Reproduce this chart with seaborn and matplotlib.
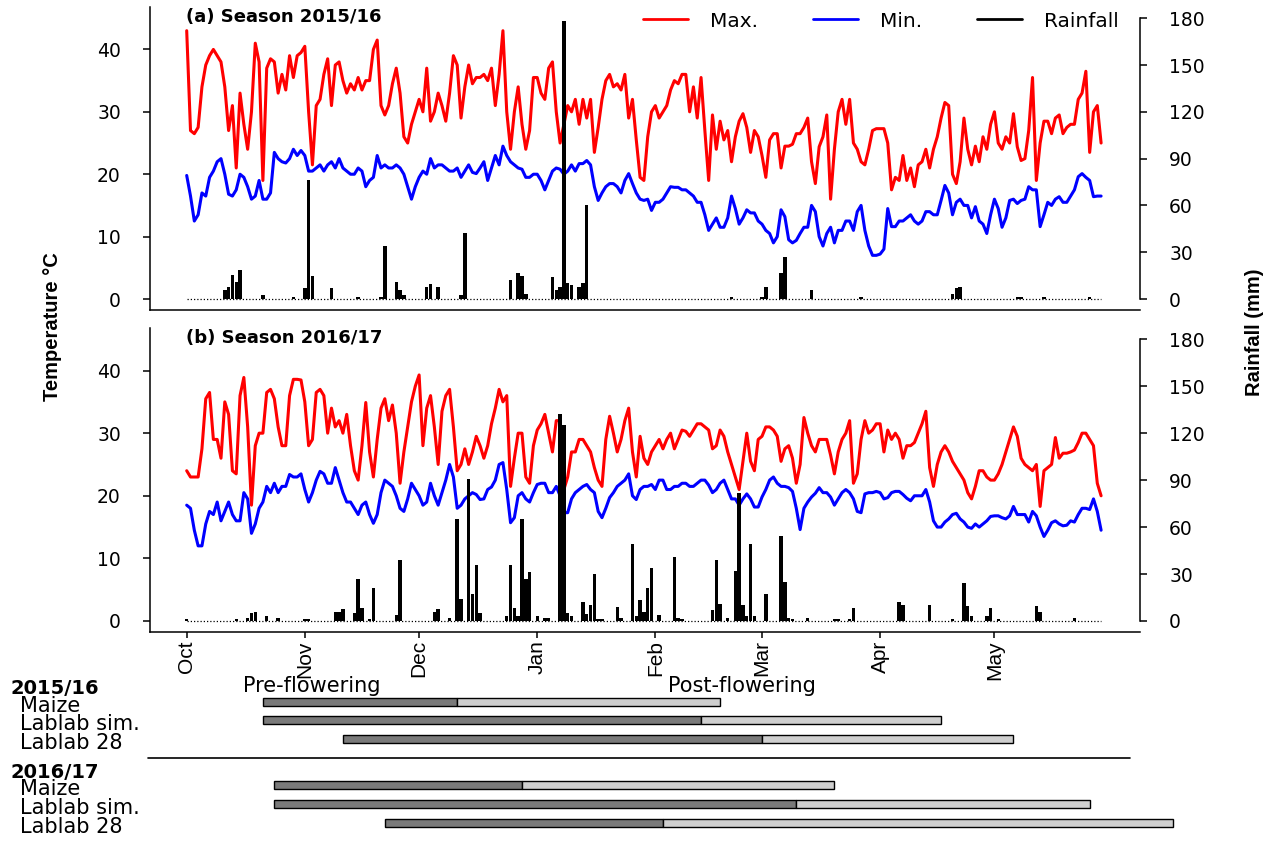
import numpy as np
import pandas as pd
import matplotlib
matplotlib.use("Agg")
import matplotlib.pyplot as plt
import seaborn as sns
from matplotlib import font_manager
from matplotlib.lines import Line2D

# ---------------- data ----------------
month_starts = [0, 31, 61, 92, 123, 151, 182, 212]          # days after 1 Oct
month_labels = ["Oct", "Nov", "Dec", "Jan", "Feb", "Mar", "Apr", "May"]

tmax_a = [43, 27, 26.5, 27.5, 34, 37.5, 39, 40, 39, 38,
          34, 27, 31, 21, 33, 28, 24, 30, 41, 38,
          19, 37, 38.5, 38, 33, 36, 33.5, 39, 35.5, 39,
          39.5, 40.5, 30, 21.5, 31, 32, 36, 38.5, 31, 37.5,
          38, 35, 33, 34.5, 33.5, 35.5, 33.5, 35, 35, 40,
          41.5, 31, 29.5, 31, 34.5, 37, 33, 26, 25, 28,
          30, 32, 30, 37, 28.5, 30, 33, 31, 28.5, 33,
          39, 37.5, 29, 34, 37.5, 34.5, 35.5, 35.5, 36, 35,
          37, 31, 36, 43, 30, 24, 30, 34, 28, 24,
          27, 35.5, 35.5, 33, 32, 37, 38, 30, 25, 28,
          31, 30, 32, 28, 32, 29, 32, 23.5, 27.5, 32,
          35, 36, 34, 34.5, 33.5, 36, 29, 32, 25.5, 19.5,
          19, 26, 30, 31, 29, 30, 31, 33.5, 35, 34.5,
          36, 36, 30, 34, 29, 35.5, 27, 19, 29.5, 24,
          28.5, 25.5, 27, 22, 26, 28.5, 29.7, 27.5, 23.5, 27,
          26, 23, 19.5, 25.5, 26.5, 26.5, 21, 24.5, 24.5, 24.8,
          26.5, 26.5, 27.5, 29, 22, 18.5, 24.4, 26, 29.5, 16,
          24, 30, 32, 28, 32, 25, 24, 22, 21.5, 24,
          27, 27.3, 27.3, 27.3, 25, 17.5, 19.5, 19, 23, 19,
          21, 18, 21.5, 22, 24, 21, 24, 26, 29, 31.5,
          31, 20, 18.5, 22, 29, 24, 21.5, 24.5, 22, 26,
          24, 28, 30, 25, 24, 26, 25, 29.7, 24.4, 22.2,
          22.5, 27, 35.5, 19, 25, 28.5, 28.5, 26.5, 29, 29.5,
          26.5, 27.5, 28, 28, 32, 33, 36.5, 23.5, 30, 31,
          25]

tmin_a = [19.8, 16.5, 12.5, 13.5, 17, 16.5, 19.5, 20.5, 22, 22.5,
          20, 16.8, 16.5, 17.5, 20, 19.5, 18, 16, 16.5, 19,
          16, 16, 17, 23.5, 22.5, 22, 21.8, 22.5, 24, 23,
          23.8, 23, 20.5, 20.5, 21, 21.5, 20.5, 21.5, 22, 21,
          22.5, 21, 20.5, 20, 20, 21, 20.5, 18, 19, 19.5,
          23, 21, 21.5, 21, 21, 21.5, 21, 20, 18, 16,
          18, 19.5, 20.5, 20, 22.5, 21, 21.5, 21.5, 21, 20.5,
          20.5, 21, 19.5, 20.5, 21.5, 20.3, 20.1, 21, 22, 19,
          21, 23, 21.5, 24.5, 23, 22, 21.5, 21, 20.8, 19.5,
          19.5, 20, 20, 19, 17.5, 19, 20.5, 21, 20.8, 20,
          20.5, 21.5, 20.5, 21.7, 21.7, 22.2, 21.5, 18, 15.8, 17,
          18, 18.5, 18.5, 18, 17, 19, 20.1, 18.5, 17, 16,
          15.8, 16, 14.2, 15.5, 15.5, 16, 17, 18, 17.9, 17.9,
          17.5, 17.5, 17, 16.5, 15.5, 15.5, 13.5, 11, 12, 13,
          11.5, 11.5, 13, 16.5, 14.5, 12, 13, 14.3, 13.8, 13.8,
          12.5, 12, 11, 10.5, 9, 10, 14.3, 13.2, 9.5, 9,
          9.4, 10.5, 11.5, 11.5, 15, 14, 10, 8.5, 10.5, 11.5,
          9, 11, 11, 12.5, 12.5, 11, 14, 15, 11, 8.5,
          7, 7, 7.2, 8, 14.5, 11.6, 11.6, 12.5, 12.5, 13,
          13.5, 12.5, 12, 12.5, 14, 14, 13.5, 13.5, 15.8, 18.2,
          17, 13.5, 15.5, 16, 15, 15, 13, 14.8, 12.5, 12,
          10.5, 13.5, 16, 14.5, 11.5, 13, 15.8, 16, 15.3, 15.8,
          16, 18, 17.5, 17.5, 11.6, 13.5, 15.5, 15, 16, 16.4,
          15.5, 15.5, 16.5, 17.5, 19.6, 20.1, 19.5, 19, 16.4, 16.5,
          16.5]

tmax_b = [24, 23, 23, 23, 27.5, 35.5, 36.5, 29, 29, 26,
          35, 33, 24, 23.5, 36, 38.9, 31, 18.5, 28, 30,
          30, 36.5, 37, 35.5, 31, 28, 28, 36, 38.6, 38.6,
          38.5, 35, 28, 29, 36.5, 37, 36, 30, 34, 31,
          32, 30, 33, 28, 24, 22.5, 28, 34.9, 27, 23,
          29, 34, 35.5, 32, 34.5, 30, 22, 27, 31, 35,
          37.5, 39.3, 28, 34, 36, 31, 25, 33.5, 36, 37,
          31, 24, 25, 27.5, 25, 27, 29.5, 28, 26, 28,
          31.5, 34, 37, 35, 36, 21.5, 26, 30, 30, 23,
          22, 28, 30.5, 31.5, 33, 30, 27, 32, 32, 21,
          23, 27, 27, 29, 29, 28, 27, 24.5, 22.5, 21.5,
          29, 32.7, 30, 27, 29, 32, 34, 27, 23, 29.5,
          26, 25, 27, 28, 29, 27.5, 29, 30, 27.5, 29,
          30.5, 30.3, 29.5, 30.5, 31.5, 31.5, 31, 30.5, 27.5, 28,
          30.5, 29.5, 27, 25, 23, 21, 25.5, 30, 25.5, 24,
          29, 29.5, 31, 31, 30.5, 29.5, 25.5, 27.5, 28, 26,
          22, 25, 32.5, 30, 28, 27, 29, 29, 29, 26.5,
          23.5, 27, 29, 30, 32, 22, 23.5, 29, 32, 30,
          30.5, 31.5, 31.5, 27, 30.5, 29, 30, 29, 26, 28,
          28, 28.5, 30, 31.5, 33.5, 24.5, 21.5, 25, 27, 28,
          27, 25.5, 24.5, 23.5, 22.5, 20.5, 19.5, 21.5, 24, 24,
          23, 22.5, 22.5, 23.5, 25, 27, 29, 31, 29.5, 26,
          25, 24.5, 24, 25, 18.3, 24, 24.5, 25, 29.3, 26,
          26.8, 26.8, 27, 27.3, 28.5, 30, 30, 29, 28, 22,
          20]

tmin_b = [18.5, 18, 14.5, 12, 12, 15.5, 17.5, 17, 19, 16,
          17.5, 19, 17, 16, 16, 20.5, 19.5, 14, 15.5, 18,
          19, 21.5, 20.5, 22, 20.5, 21.5, 21.5, 23.4, 23, 23,
          23.5, 21, 19, 20.5, 22.5, 23.9, 23.5, 22, 22, 24.5,
          22.5, 20.5, 19, 19, 18, 17, 18.5, 19, 17, 15.6,
          17, 20.5, 22.5, 22, 21.5, 20, 18, 17.5, 19.5, 22,
          21, 20, 18.5, 19, 22, 20, 18.5, 20.5, 22.5, 25,
          23, 18, 18.5, 19.5, 20, 20.5, 20.2, 19.4, 19.5, 21,
          21.4, 22.5, 25, 25.3, 21, 15.7, 16.5, 20, 20.5, 19.5,
          19, 20.5, 21.8, 22, 22, 20.5, 20.5, 21.5, 20, 17.3,
          17.3, 19.5, 20.5, 21, 21.5, 21.8, 21, 20.5, 17.5, 16.5,
          18, 19.7, 20.5, 21.5, 22, 22.5, 23.5, 20, 19.4, 21,
          21.5, 21.5, 21.8, 21, 22.5, 22.5, 21, 21, 21.5, 21.5,
          22, 22, 21.5, 21.5, 22, 22.5, 22.5, 21.7, 20.5, 21,
          22, 22.5, 21, 19.5, 19.5, 18.5, 19.5, 20.3, 19.5, 18.2,
          18.2, 19.8, 21, 22.5, 23, 22, 21.5, 21.5, 21.3, 20.7,
          18, 14.6, 18, 19, 19.8, 20.4, 21.3, 20.5, 20.5, 19.8,
          18.5, 19.5, 20.5, 21, 20.5, 19.5, 17.5, 17.3, 20.3, 20.5,
          20.5, 20.7, 20.5, 19.5, 19.7, 20.5, 20.7, 20.7, 20.2, 19.6,
          19.2, 20, 20, 20, 21, 19, 16, 15, 15, 15.8,
          16.3, 17, 17.2, 16.3, 15.8, 15, 14.8, 15.5, 15, 15.5,
          16, 16.7, 16.8, 16.8, 16.5, 16.3, 16.8, 18.3, 17, 17,
          17, 15.8, 17.5, 16.8, 15, 13.5, 14.5, 15.7, 16, 15.5,
          15.2, 15.3, 16, 15.8, 17, 18, 18, 17.8, 19.5, 17.5,
          14.5]

rain_days_a = [10, 11, 12, 13, 14, 20, 28, 31, 32, 33, 38, 45, 51, 52, 55, 56, 57,
               63, 64, 66, 72, 73, 85, 87, 88, 89, 96, 97, 98, 99, 100, 101, 103,
               104, 105, 143, 151, 152, 156, 157, 164, 177, 201, 202, 203, 218,
               219, 225, 237]
rain_mm_a = [6, 8, 15.5, 11, 18.5, 2.5, 1, 7, 76, 15, 7, 1, 1, 34, 11, 6, 2.5,
             7.5, 9.5, 8, 2.5, 42.5, 12, 16.5, 15, 3, 14, 5.5, 8, 178, 10, 9, 8,
             10, 60, 1, 1.5, 8, 16.5, 27, 6, 1.5, 3.5, 7, 8, 1.5,
             1.5, 1, 1.5]

rain_days_b = [0, 13, 16, 17, 18, 21, 24, 31, 32, 39, 40, 41, 44, 45, 46, 48, 49,
               55, 56, 65, 66, 69, 71, 72, 74, 75, 76, 77, 84, 85, 86, 87, 88, 89,
               90, 92, 94, 95, 98, 99, 100, 101, 104, 105, 106, 107, 108, 109,
               113, 114, 117, 118, 119, 120, 121, 122, 124, 128, 129, 130, 138,
               139, 140, 142, 144, 145, 146, 147, 148, 149, 152, 156, 157, 158,
               159, 163, 170, 171, 174, 175, 187, 188, 195, 201, 204, 205, 206,
               210, 211, 213, 223, 224, 233]
rain_mm_b = [1, 1, 2, 5, 5.5, 3.5, 2, 1.5, 1, 6, 6, 7.5, 5, 27, 8, 1, 21,
             4, 39, 6, 7.5, 2, 65, 14, 91, 17, 36, 5, 3, 36, 8, 3, 65, 27,
             31, 3, 2, 2, 132, 125, 5, 3, 12, 4.5, 10, 30, 1, 1,
             9, 2, 49, 3, 13.5, 6, 21, 34, 4, 41, 2, 1, 7,
             39, 11, 2, 32, 82, 10, 3, 49, 3, 17, 54, 25, 2,
             1.5, 2, 1.5, 1, 1.5, 8, 12, 10, 10.5, 1.5, 24.5, 9.5, 3,
             3, 8, 1.5, 9.5, 5.5, 2]

crops = ["Maize", "Lablab sim.", "Lablab 28"]
seasons = ["2015/16", "2016/17"]
# days after 1 Oct: sowing, flowering, maturity
sow_1516 = [20, 20, 41]
flower_1516 = [71, 135, 151]
end_1516 = [140, 198, 217]
sow_1617 = [23, 23, 52]
flower_1617 = [88, 160, 125]
end_1617 = [170, 237, 259]

# ---------------- style ----------------
sns.set_style("white")
names = {f.name for f in font_manager.fontManager.ttflist}
NARROW = "Liberation Sans Narrow" if "Liberation Sans Narrow" in names else "Liberation Sans"
plt.rcParams["font.family"] = ["DejaVu Sans"]
plt.rcParams.update({
    "axes.linewidth": 1.1,
    "axes.edgecolor": "black",
    "text.color": "black",
    "axes.labelcolor": "black",
    "xtick.color": "black",
    "ytick.color": "black",
})

W, H = 1277, 841
fig = plt.figure(figsize=(W / 100, H / 100), dpi=100)

PX0, PXD = 186.7, 3.81          # pixel of day 0, pixels per day
AX_L, AX_R = 150, 1140
XLIM = ((AX_L - PX0) / PXD, (AX_R - PX0) / PXD)


def panel(top, bottom, tmax, tmin, rdays, rmm, title, show_x):
    ax = fig.add_axes([AX_L / W, 1 - bottom / H, (AX_R - AX_L) / W, (bottom - top) / H])
    days = np.arange(len(tmax))
    df = pd.DataFrame({"day": days, "Max.": tmax, "Min.": tmin})
    sns.lineplot(data=df, x="day", y="Max.", ax=ax, color="#ff0000", lw=2.2)
    sns.lineplot(data=df, x="day", y="Min.", ax=ax, color="#0000ff", lw=2.2)
    ax.set_xlim(XLIM)
    ax.set_ylim(-1.76, 46.8)
    ax.set_yticks([0, 10, 20, 30, 40])
    ax.set_xlabel("")
    ax.set_ylabel("")
    for s in ["top", "right"]:
        ax.spines[s].set_visible(False)
    ax.tick_params(axis="y", length=5, width=1.1, pad=16, labelsize=13.5, direction="out",
                   left=True, colors="black")
    if show_x:
        ax.set_xticks(month_starts)
        ax.set_xticklabels(month_labels, rotation=90, fontsize=15, family=NARROW)
        ax.tick_params(axis="x", length=4, width=1.1, pad=2, direction="out", bottom=True,
                       colors="black")
    else:
        ax.tick_params(axis="x", bottom=False, labelbottom=False)

    ax2 = ax.twinx()
    ax2.bar(rdays, rmm, width=0.9, color="black", linewidth=0)
    ax2.hlines(0, days[0], days[-1], colors="black", linestyles=(0, (1, 1.6)), lw=0.9)
    ax2.set_ylim(-1.76 * 4, 46.8 * 4)
    ax2.set_yticks([0, 30, 60, 90, 120, 150, 180])
    for s in ["top", "left", "bottom"]:
        ax2.spines[s].set_visible(False)
    ax2.spines["right"].set_bounds(0, 180)
    ax2.tick_params(axis="y", length=5, width=1.1, pad=16, labelsize=13.5, direction="out",
                    right=True, colors="black")
    ax2.set_xlim(XLIM)

    ax.text(0.036, 0.967, title, transform=ax.transAxes, fontsize=13,
            fontweight="bold", ha="left", va="center", color="black")
    return ax, ax2


axA, axA2 = panel(7, 310, tmax_a, tmin_a, rain_days_a, rain_mm_a, "(a) Season 2015/16", False)
axB, axB2 = panel(328, 632, tmax_b, tmin_b, rain_days_b, rain_mm_b, "(b) Season 2016/17", True)

handles = [Line2D([], [], color="#ff0000", lw=2),
           Line2D([], [], color="#0000ff", lw=2),
           Line2D([], [], color="black", lw=2)]
axA2.legend(handles, ["Max.", "Min.", "Rainfall"], ncol=3, frameon=False,
            loc="upper left", bbox_to_anchor=((643 - AX_L) / (AX_R - AX_L), 0.985),
            fontsize=14.5, handlelength=2.25, handletextpad=1.1, columnspacing=2.7,
            borderpad=0, borderaxespad=0, labelcolor="black")

fig.text(53 / W, 1 - 327 / H, "Temperature °C", rotation=90, ha="center", va="center",
         fontsize=14.5, fontweight="bold", family=NARROW, color="black")
fig.text(1255 / W, 1 - 332 / H, "Rainfall (mm)", rotation=90, ha="center", va="center",
         fontsize=14.5, fontweight="bold", family=NARROW, color="black")

# ---------------- crop phenology bars ----------------
GT, GB = 660, 841
axG = fig.add_axes([0, 0, 1, (GB - GT) / H])
axG.set_xlim(-PX0 / PXD, (W - PX0) / PXD)
axG.set_ylim(GB, GT)
axG.axis("off")

row_y = {"2015/16": [702, 720, 739], "2016/17": [785, 804, 823]}
head_y = {"2015/16": 689, "2016/17": 772}
phase = {"2015/16": (sow_1516, flower_1516, end_1516),
         "2016/17": (sow_1617, flower_1617, end_1617)}
for season in seasons:
    sow, flo, end = phase[season]
    ys = row_y[season]
    axG.text(10 / W, head_y[season], season, transform=axG.get_yaxis_transform(),
             fontsize=14, fontweight="bold", ha="left", va="center", color="black")
    axG.barh(ys, np.array(flo) - np.array(sow), left=sow, height=8,
             color="#7a7a7a", edgecolor="black", linewidth=1)
    axG.barh(ys, np.array(end) - np.array(flo), left=flo, height=8,
             color="#cfcfcf", edgecolor="black", linewidth=1)
    for c, y in zip(crops, ys):
        axG.text(20 / W, y + 4, c, transform=axG.get_yaxis_transform(),
                 fontsize=15, ha="left", va="center", color="black")

axG.axhline(758, xmin=148 / W, xmax=1130 / W, color="black", lw=1.2)
axG.text(243 / W, 686, "Pre-flowering", transform=axG.get_yaxis_transform(),
         fontsize=15, ha="left", va="center", color="black")
axG.text(668 / W, 686, "Post-flowering", transform=axG.get_yaxis_transform(),
         fontsize=15, ha="left", va="center", color="black")

fig.savefig("out.png", dpi=100)
